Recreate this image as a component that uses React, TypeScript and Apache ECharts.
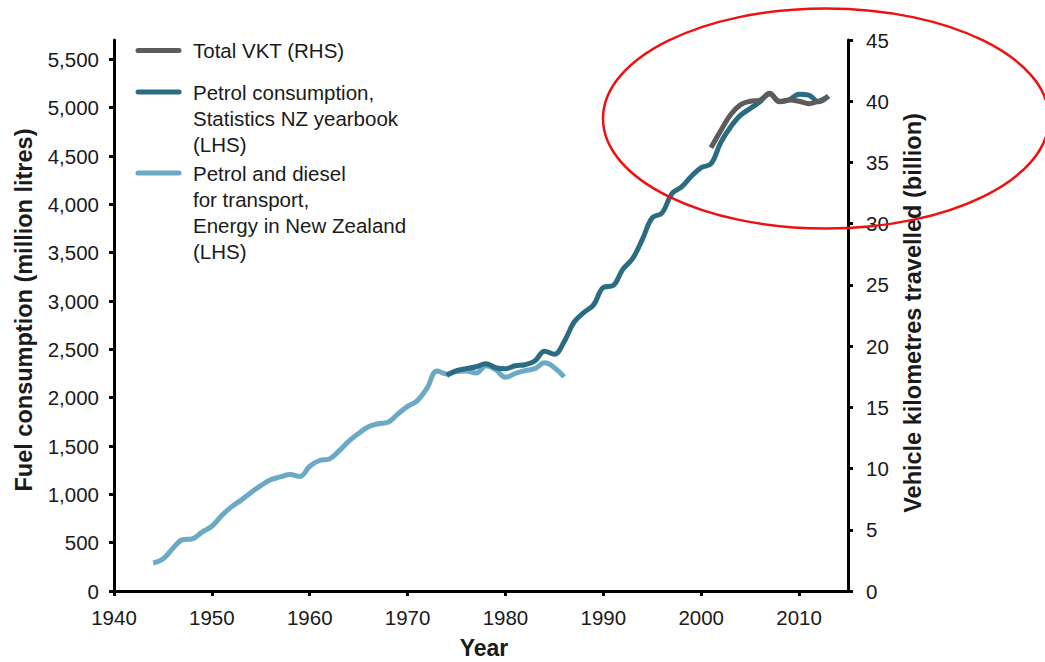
import React, { useEffect, useRef } from "react";
import * as echarts from "echarts";

// ---- Data ----
const energyStartYear = 1944; // Petrol and diesel for transport, Energy in New Zealand (LHS)
const energyValues = [
  290, 330, 440, 530, 540, 610, 670, 780, 870, 940,
  1020, 1090, 1150, 1180, 1205, 1185, 1290, 1350, 1365, 1450,
  1550, 1630, 1700, 1730, 1745, 1830, 1910, 1970, 2100, 2275,
  2245, 2270, 2275, 2255, 2330, 2290, 2210, 2250, 2280, 2300,
  2360, 2310, 2215,
];

const statsStartYear = 1974; // Petrol consumption, Statistics NZ yearbook (LHS)
const statsValues = [
  2230, 2280, 2300, 2320, 2350, 2310, 2300, 2330, 2340, 2380,
  2480, 2450, 2580, 2780, 2880, 2960, 3140, 3160, 3330, 3440,
  3640, 3860, 3910, 4110, 4180, 4290, 4380, 4420, 4640, 4800,
  4920, 4990, 5060, 5150, 5060, 5080, 5140, 5130, 5060, 5120,
];

const vktStartYear = 2001; // Total VKT (RHS), billion
const vktValues = [36.2, 37.6, 38.9, 39.7, 40.0, 40.1, 40.6, 40.0, 40.1, 40.0, 39.8, 40.0, 40.4];

const yearTicks = [1940, 1950, 1960, 1970, 1980, 1990, 2000, 2010];
const leftTicks = [0, 500, 1000, 1500, 2000, 2500, 3000, 3500, 4000, 4500, 5000, 5500];
const rightTicks = [0, 5, 10, 15, 20, 25, 30, 35, 40, 45];

const legendItems = [
  { name: "Total VKT (RHS)", lines: ["Total VKT (RHS)"] },
  { name: "Petrol consumption", lines: ["Petrol consumption,", "Statistics NZ yearbook", "(LHS)"] },
  { name: "Petrol and diesel", lines: ["Petrol and diesel", "for transport,", "Energy in New Zealand", "(LHS)"] },
];

const GRAY = "#5c5c5c";
const TEAL = "#2a6c81";
const LIGHT = "#6ba9c5";
const FONT = "'Liberation Sans', Arial, Helvetica, sans-serif";
const TEXT = "#1a1a1a";

function toPairs(start: number, vals: number[]) {
  return vals.map((v, i) => [start + i, v]);
}

export default function App() {
  const ref = useRef<HTMLDivElement>(null);
  useEffect(() => {
    if (!ref.current) return;
    const chart = echarts.init(ref.current, undefined, { renderer: "svg" });

    const legendColors = [GRAY, TEAL, LIGHT];
    const legendTops = [50.5, 92, 173];
    const lineGap = 26;
    const graphics: any[] = [];
    legendItems.forEach((item, k) => {
      graphics.push({
        type: "line",
        shape: { x1: 138, y1: legendTops[k], x2: 179, y2: legendTops[k] },
        style: { stroke: legendColors[k], lineWidth: 5, lineCap: "round" },
      });
      item.lines.forEach((t, j) => {
        graphics.push({
          type: "text",
          x: 193,
          y: legendTops[k] + j * lineGap,
          style: { text: t, font: `20.5px ${FONT}`, fill: TEXT, align: "left", verticalAlign: "middle" },
        });
      });
    });
    graphics.push(
      {
        type: "text",
        x: 24,
        y: 310,
        rotation: Math.PI / 2,
        style: { text: "Fuel consumption (million litres)", font: `bold 23.5px ${FONT}`, fill: TEXT, align: "center", verticalAlign: "middle" },
      },
      {
        type: "text",
        x: 913,
        y: 313,
        rotation: Math.PI / 2,
        style: { text: "Vehicle kilometres travelled (billion)", font: `bold 23.5px ${FONT}`, fill: TEXT, align: "center", verticalAlign: "middle" },
      },
      {
        type: "text",
        x: 484,
        y: 648,
        style: { text: "Year", font: `bold 23px ${FONT}`, fill: TEXT, align: "center", verticalAlign: "middle" },
      },
      {
        type: "ellipse",
        shape: { cx: 826, cy: 118.5, rx: 223, ry: 110 },
        style: { fill: "transparent", stroke: "#ee1111", lineWidth: 2.5 },
        z: 100,
      }
    );

    const labelStyle = { color: TEXT, fontSize: 20.5, fontFamily: FONT };
    chart.setOption({
      animation: false,
      grid: { left: 114, right: 197, top: 40, bottom: 71 },
      xAxis: {
        type: "value",
        min: 1940,
        max: 2015,
        interval: 10,
        axisLine: { show: true, onZero: false, lineStyle: { color: "#000", width: 3 } },
        axisTick: { show: true, length: 5, lineStyle: { color: "#000", width: 3 }, customValues: yearTicks },
        axisLabel: { ...labelStyle, margin: 16, formatter: (v: number) => String(v), customValues: yearTicks },
        splitLine: { show: false },
      },
      yAxis: [
        {
          type: "value",
          position: "left",
          min: 0,
          max: 5700,
          interval: 500,
          axisLine: { show: true, lineStyle: { color: "#000", width: 3 } },
          axisTick: { show: true, length: 5, lineStyle: { color: "#000", width: 3 }, customValues: leftTicks },
          axisLabel: { ...labelStyle, margin: 15, customValues: leftTicks },
          splitLine: { show: false },
        },
        {
          type: "value",
          position: "right",
          min: 0,
          max: 45,
          interval: 5,
          axisLine: { show: true, lineStyle: { color: "#000", width: 3 } },
          axisTick: { show: true, length: 5, lineStyle: { color: "#000", width: 3 }, customValues: rightTicks },
          axisLabel: { ...labelStyle, margin: 18, customValues: rightTicks },
          splitLine: { show: false },
        },
      ],
      series: [
        {
          name: "Petrol and diesel for transport, Energy in New Zealand (LHS)",
          type: "line",
          yAxisIndex: 0,
          data: toPairs(energyStartYear, energyValues),
          showSymbol: false,
          smooth: 0.4,
          lineStyle: { color: LIGHT, width: 5 },
          itemStyle: { color: LIGHT },
        },
        {
          name: "Petrol consumption, Statistics NZ yearbook (LHS)",
          type: "line",
          yAxisIndex: 0,
          data: toPairs(statsStartYear, statsValues),
          showSymbol: false,
          smooth: 0.4,
          lineStyle: { color: TEAL, width: 5 },
          itemStyle: { color: TEAL },
        },
        {
          name: "Total VKT (RHS)",
          type: "line",
          yAxisIndex: 1,
          data: toPairs(vktStartYear, vktValues),
          showSymbol: false,
          smooth: 0.4,
          lineStyle: { color: GRAY, width: 5 },
          itemStyle: { color: GRAY },
        },
      ],
      graphic: graphics,
    });
    return () => chart.dispose();
  }, []);

  return (
    <div
      ref={ref}
      style={{ position: "fixed", left: 0, top: 0, width: 1045, height: 662, background: "#fff" }}
    />
  );
}
